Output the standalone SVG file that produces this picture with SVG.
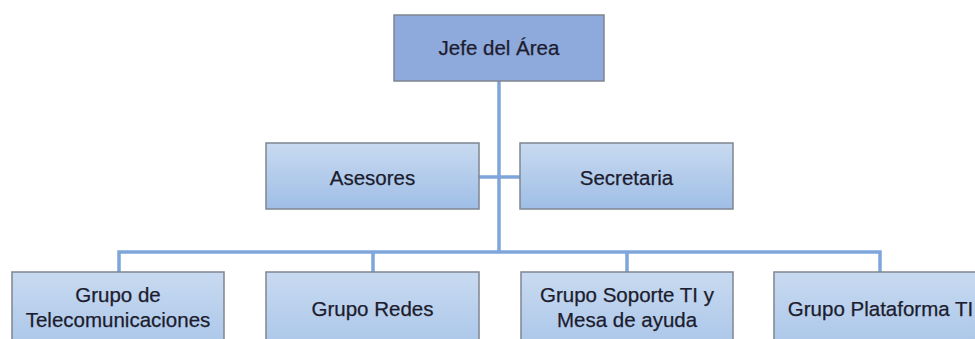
<svg xmlns="http://www.w3.org/2000/svg" width="975" height="339" viewBox="0 0 975 339">
<defs>
<linearGradient id="g" x1="0" y1="0" x2="0" y2="1">
<stop offset="0" stop-color="#C8DAF0"/>
<stop offset="1" stop-color="#9FBEE6"/>
</linearGradient>
<linearGradient id="gb" x1="0" y1="0" x2="0" y2="1">
<stop offset="0" stop-color="#C8DAF0"/>
<stop offset="1" stop-color="#A9C5E9"/>
</linearGradient>
</defs>
<style>
.box{fill:url(#g);stroke:#7F8590;stroke-width:1.5}
.boxb{fill:url(#gb);stroke:#7F8590;stroke-width:1.5}
.top{fill:#8EA9DB;stroke:#7F8590;stroke-width:1.5}
.t{font-family:"Liberation Sans",Arial,sans-serif;font-size:20.5px;fill:#1C1C2E;stroke:#1C1C2E;stroke-width:0.25;text-anchor:middle}
.c{fill:none;stroke:#7EA6DA;stroke-width:3.5}
</style>
<rect width="975" height="339" fill="#fff"/>
<g id="connectors">
<line class="c" x1="499" y1="81" x2="499" y2="252"/>
<line class="c" x1="479" y1="177" x2="520" y2="177"/>
<polyline class="c" points="119,272 119,252 880,252 880,272"/>
<line class="c" x1="373" y1="252" x2="373" y2="272"/>
<line class="c" x1="627" y1="252" x2="627" y2="272"/>
</g>
<g id="jefe">
<rect class="top" x="394" y="15" width="210" height="66"/>
<text class="t" x="499" y="55">Jefe del Área</text>
</g>
<g id="asesores">
<rect class="box" x="266" y="143" width="213" height="66"/>
<text class="t" x="372.5" y="185">Asesores</text>
</g>
<g id="secretaria">
<rect class="box" x="520" y="143" width="213" height="66"/>
<text class="t" x="626.5" y="185">Secretaria</text>
</g>
<g id="telecom">
<rect class="boxb" x="12" y="272" width="212" height="80"/>
<text class="t" x="118" y="302">Grupo de</text>
<text class="t" x="118" y="327">Telecomunicaciones</text>
</g>
<g id="redes">
<rect class="boxb" x="266" y="272" width="213" height="80"/>
<text class="t" x="372.5" y="316">Grupo Redes</text>
</g>
<g id="soporte">
<rect class="boxb" x="521" y="272" width="212" height="80"/>
<text class="t" x="627" y="302">Grupo Soporte TI y</text>
<text class="t" x="627" y="327">Mesa de ayuda</text>
</g>
<g id="plataforma">
<rect class="boxb" x="774" y="272" width="213" height="80"/>
<text class="t" x="880.5" y="316">Grupo Plataforma TI</text>
</g>
</svg>
